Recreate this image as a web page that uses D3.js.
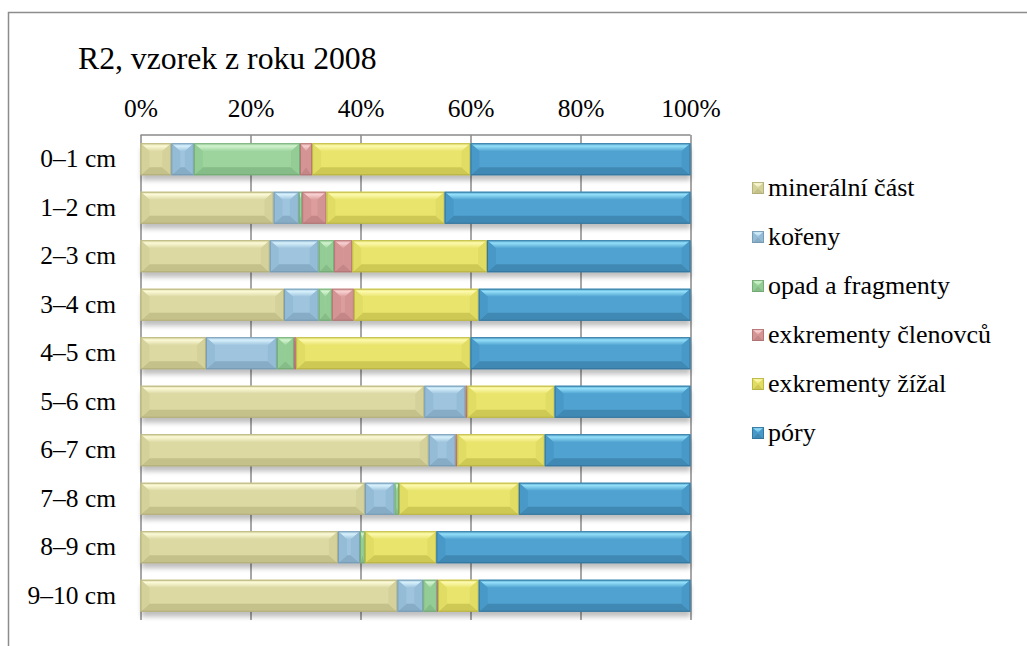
<!DOCTYPE html>
<html>
<head>
<meta charset="utf-8">
<script src="https://cdn.jsdelivr.net/npm/d3@7"></script>
<style>
  html, body { margin: 0; padding: 0; background: #fff; }
  svg { display: block; }
  text { font-family: "Liberation Serif", "Times New Roman", serif; fill: #000; }
</style>
</head>
<body>
<svg id="chart" width="1027" height="646"></svg>
<script>
// Depth layers of the 2008 R2 sample
const categories = ["0–1 cm", "1–2 cm", "2–3 cm", "3–4 cm", "4–5 cm",
                    "5–6 cm", "6–7 cm", "7–8 cm", "8–9 cm", "9–10 cm"];

// Share of each component per layer (percent)
const mineralni = [5.6, 24.2, 23.5, 26.1, 11.9, 51.6, 52.4, 40.8, 35.9, 46.7];
const koreny    = [4.1, 4.6, 8.9, 6.3, 12.9, 7.5, 4.9, 5.4, 4.0, 4.7];
const opad      = [19.3, 0.6, 2.8, 2.4, 3.1, 0, 0, 0.8, 0.9, 2.5];
const clenovci  = [2.2, 4.4, 3.3, 4.0, 0.4, 0.3, 0.3, 0, 0, 0.2];
const zizaly    = [28.8, 21.5, 24.5, 22.7, 31.7, 15.9, 15.9, 21.8, 13.0, 7.4];
const pory      = [40.0, 44.7, 37.0, 38.5, 40.0, 24.7, 26.5, 31.2, 46.2, 38.5];

const seriesNames = ["minerální část", "kořeny", "opad a fragmenty",
                     "exkrementy členovců", "exkrementy žížal", "póry"];
const seriesValues = [mineralni, koreny, opad, clenovci, zizaly, pory];
const tickValues = [0, 20, 40, 60, 80, 100];

// base / highlight / shade per series
const palette = [
  { base: "#dcd9a3", light: "#fbf9d6", dark: "#a9a56f", side: "#d4d19a" },
  { base: "#9ec4de", light: "#d6f0fb", dark: "#6b90a8", side: "#95bcd6" },
  { base: "#9dd49e", light: "#d2f3cf", dark: "#69a06b", side: "#93cc94" },
  { base: "#dc9d9d", light: "#f8d0d0", dark: "#a66a6a", side: "#d49494" },
  { base: "#e9e46c", light: "#fcf9ad", dark: "#aea939", side: "#e1dc63" },
  { base: "#50a3d1", light: "#93def8", dark: "#2d6b90", side: "#4899c7" }
];

const svg = d3.select("#chart");
const TX = 1.04; // horizontal stretch of the lettering

// outer frame
svg.append("path")
  .attr("d", "M8.5,646 L8.5,12.5 L1027,12.5")
  .attr("fill", "none").attr("stroke", "#8c8c8c").attr("stroke-width", 1.5);

// title
svg.append("text")
  .attr("transform", "translate(78,69) scale(" + TX + ",1)")
  .attr("font-size", 30.5)
  .text("R2, vzorek z roku 2008");

const x = d3.scaleLinear().domain([0, 100]).range([140.5, 690.5]);
const y = d3.scaleBand().domain(categories).range([135, 620])
  .paddingInner(0.34).paddingOuter(0.17);

// top axis with gridlines
const axis = svg.append("g")
  .attr("transform", "translate(0,135)")
  .call(d3.axisTop(x).tickValues(tickValues).tickFormat(d => d + "%")
        .tickSize(-(620 - 135)).tickPadding(18));
axis.select(".domain").attr("stroke", "#8a8a8a").attr("stroke-width", 1.5)
  .attr("d", "M" + x(0) + ",0H" + x(100));
axis.selectAll(".tick line").attr("stroke", "#8a8a8a").attr("stroke-width", 1.5);
axis.selectAll(".tick text")
  .attr("font-family", "Liberation Serif, Times New Roman, serif")
  .attr("font-size", 24.5).attr("fill", "#000")
  .attr("transform", "scale(" + TX + ",1)");

// category labels
svg.append("g").selectAll("text").data(categories).join("text")
  .attr("text-anchor", "end")
  .attr("font-size", 24.5)
  .attr("transform", d => "translate(116," + (y(d) + y.bandwidth() / 2 + 8) + ") scale(" + TX + ",1)")
  .text(d => d);

// stacked data
const rows = categories.map((c, i) => {
  const row = { cat: c };
  seriesNames.forEach((s, k) => { row[s] = seriesValues[k][i]; });
  return row;
});
const stack = d3.stack().keys(seriesNames).offset(d3.stackOffsetExpand);
const stacked = stack(rows);
const xs = d3.scaleLinear().domain([0, 1]).range(x.range());

const defs = svg.append("defs");
defs.append("filter").attr("id", "shadow").attr("x", "-5%").attr("y", "-50%")
  .attr("width", "110%").attr("height", "200%")
  .append("feGaussianBlur").attr("stdDeviation", 2.5);

// highlight gradient for the top bevel of each series
palette.forEach((col, k) => {
  const gr = defs.append("linearGradient").attr("id", "top" + k)
    .attr("x1", 0).attr("y1", 0).attr("x2", 0).attr("y2", 1);
  gr.append("stop").attr("offset", 0).attr("stop-color", col.base);
  gr.append("stop").attr("offset", 0.35).attr("stop-color", col.light);
  gr.append("stop").attr("offset", 1).attr("stop-color", col.base);
});

// soft shadow under each bar
svg.append("g").selectAll("rect").data(categories).join("rect")
  .attr("x", x(0) + 1).attr("width", x(100) - x(0) - 1)
  .attr("y", d => y(d) + 5).attr("height", y.bandwidth())
  .attr("fill", "#000").attr("opacity", 0.25)
  .attr("filter", "url(#shadow)");

// bevelled segment
function bevel(g, x0, x1, y0, h, col, k) {
  const w = x1 - x0;
  if (w <= 0) return;
  const b = Math.min(9, w / 2);
  const bt = Math.min(8, h / 2);
  const y1 = y0 + h;
  g.append("rect").attr("x", x0).attr("y", y0).attr("width", w).attr("height", h)
    .attr("fill", col.base);
  // top
  g.append("path").attr("fill", "url(#top" + k + ")")
    .attr("d", `M${x0},${y0}L${x1},${y0}L${x1 - b},${y0 + bt}L${x0 + b},${y0 + bt}Z`);
  // bottom
  g.append("path").attr("fill", col.dark).attr("opacity", 0.45)
    .attr("d", `M${x0},${y1}L${x1},${y1}L${x1 - b},${y1 - bt}L${x0 + b},${y1 - bt}Z`);
  // sides
  g.append("path").attr("fill", col.side)
    .attr("d", `M${x0},${y0}L${x0 + b},${y0 + bt}L${x0 + b},${y1 - bt}L${x0},${y1}Z`);
  g.append("path").attr("fill", col.side)
    .attr("d", `M${x1},${y0}L${x1 - b},${y0 + bt}L${x1 - b},${y1 - bt}L${x1},${y1}Z`);
  // outline
  g.append("rect").attr("x", x0 + 0.5).attr("y", y0 + 0.5)
    .attr("width", Math.max(0, w - 1)).attr("height", h - 1)
    .attr("fill", "none").attr("stroke", col.dark).attr("stroke-opacity", 0.7).attr("stroke-width", 1);
}

const barsG = svg.append("g");
stacked.forEach((layer, k) => {
  layer.forEach(seg => {
    const g = barsG.append("g");
    bevel(g, xs(seg[0]), xs(seg[1]), y(seg.data.cat), y.bandwidth(), palette[k], k);
  });
});

// legend
const legend = svg.append("g");
seriesNames.forEach((name, k) => {
  const cy = 188 + k * 49;
  const g = legend.append("g");
  bevel(g, 752, 764, cy - 6, 12, palette[k], k);
  legend.append("text")
    .attr("font-size", 25)
    .attr("transform", "translate(768," + (cy + 8) + ") scale(" + TX + ",1)")
    .text(name);
});
</script>
</body>
</html>
